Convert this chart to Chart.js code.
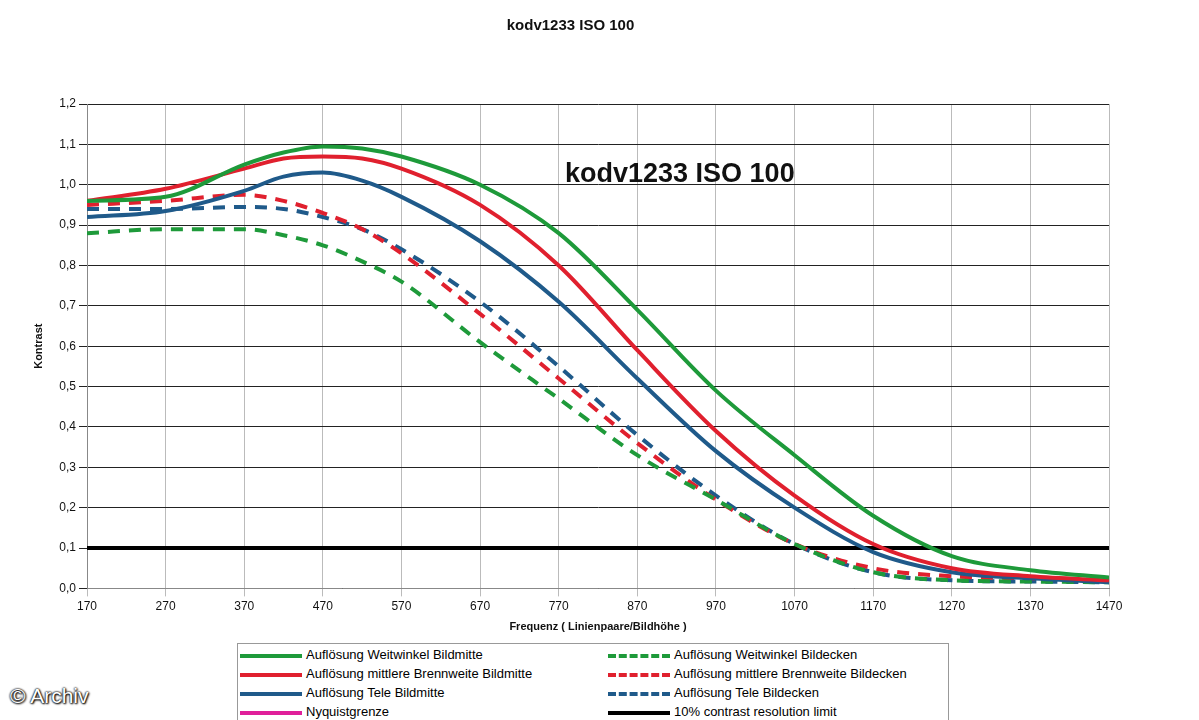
<!DOCTYPE html>
<html><head><meta charset="utf-8">
<script src="https://cdn.jsdelivr.net/npm/chart.js@4/dist/chart.umd.min.js"></script>
<style>
body{margin:0;background:#fff;font-family:"Liberation Sans",Arial,sans-serif;}
#wrap{position:absolute;left:0;top:0;width:1199px;height:638px;}
#inner{position:absolute;left:565px;top:158px;font:bold 27px "Liberation Sans",Arial;color:#111;}
#legend{position:absolute;left:237px;top:643px;width:710px;height:80px;border:1px solid #999;font:13px "Liberation Sans",Arial;}
.it{position:absolute;height:18px;line-height:18px;}
.sw{display:inline-block;width:62px;height:0;vertical-align:middle;margin-right:4px;border-top-width:4px;border-top-style:solid;}
#wm{position:absolute;left:10px;top:684px;font:21px "Liberation Sans",Arial;color:#fff;text-shadow:0 0 2px #000,0 0 2px #000,1px 1px 2px #000;}
</style></head><body>
<div id="wrap"><canvas id="c" width="1199" height="638"></canvas></div>
<div id="inner">kodv1233 ISO 100</div>
<div id="legend"></div>
<div id="wm">© Archiv</div>
<script>
const freq=[170,270,370,420,470,520,570,670,770,870,970,1070,1170,1270,1370,1470];
const weitMitte=[0.96,0.97,1.05,1.08,1.095,1.09,1.07,1.00,0.88,0.69,0.49,0.33,0.18,0.08,0.045,0.027];
const mittelMitte=[0.96,0.99,1.04,1.065,1.07,1.065,1.04,0.95,0.80,0.59,0.39,0.23,0.11,0.05,0.03,0.02];
const teleMitte=[0.92,0.935,0.985,1.02,1.03,1.01,0.97,0.86,0.71,0.52,0.34,0.20,0.09,0.04,0.025,0.015];
const weitEcke=[0.88,0.89,0.89,0.875,0.85,0.81,0.76,0.61,0.47,0.33,0.22,0.11,0.04,0.02,0.017,0.015];
const mittelEcke=[0.95,0.96,0.975,0.96,0.93,0.89,0.83,0.68,0.52,0.36,0.22,0.11,0.05,0.03,0.025,0.02];
const teleEcke=[0.94,0.94,0.945,0.94,0.92,0.89,0.84,0.71,0.55,0.38,0.23,0.11,0.04,0.02,0.017,0.015];
const limit=[0.1,0.1];
const xTicks=[170,270,370,470,570,670,770,870,970,1070,1170,1270,1370,1470];
const G='#1e9a3a',R='#e0202e',B='#1f5a8a';
const mk=(d)=>d.map((v,i)=>({x:freq[i],y:v}));
const ds=[
{label:'Auflösung Weitwinkel Bildmitte',data:mk(weitMitte),borderColor:G,borderWidth:4},
{label:'Auflösung mittlere Brennweite Bildmitte',data:mk(mittelMitte),borderColor:R,borderWidth:4},
{label:'Auflösung Tele Bildmitte',data:mk(teleMitte),borderColor:B,borderWidth:4},
{label:'Auflösung Weitwinkel Bildecken',data:mk(weitEcke),borderColor:G,borderWidth:4,borderDash:[12,9]},
{label:'Auflösung mittlere Brennweite Bildecken',data:mk(mittelEcke),borderColor:R,borderWidth:4,borderDash:[12,9]},
{label:'Auflösung Tele Bildecken',data:mk(teleEcke),borderColor:B,borderWidth:4,borderDash:[12,9]},
{label:'10% contrast resolution limit',data:[{x:170,y:limit[0]},{x:1470,y:limit[1]}],borderColor:'#000',borderWidth:4}
];
ds.forEach(d=>{d.pointRadius=0;d.cubicInterpolationMode='monotone';d.fill=false;});
new Chart(document.getElementById('c'),{type:'line',data:{datasets:ds},
options:{responsive:false,animation:false,layout:{padding:{left:32,right:90,top:0,bottom:0}},
plugins:{legend:{display:false},title:{display:true,text:'kodv1233 ISO 100',color:'#111',font:{size:15,weight:'bold',family:'Liberation Sans'},padding:{top:17,bottom:69}}},
scales:{x:{type:'linear',min:170,max:1470,afterBuildTicks:a=>{a.ticks=xTicks.map(v=>({value:v}));},
ticks:{color:'#111',font:{size:12},maxRotation:0,callback:v=>String(v)},grid:{color:'#bbb',drawTicks:true},border:{color:'#888'},
title:{display:true,text:'Frequenz ( Linienpaare/Bildhöhe )',font:{size:11,weight:'bold'},color:'#111'}},
y:{min:0,max:1.2,afterFit:a=>{a.width=55;},ticks:{stepSize:0.1,color:'#111',font:{size:12},callback:v=>v.toFixed(1).replace('.',',')},
grid:{color:'#222',lineWidth:1},border:{color:'#888'},
title:{display:true,text:'Kontrast',font:{size:11,weight:'bold'},color:'#111',padding:0}}}}});
const items=[
['Auflösung Weitwinkel Bildmitte',G,'solid',0,0],['Auflösung Weitwinkel Bildecken',G,'dashed',1,0],
['Auflösung mittlere Brennweite Bildmitte',R,'solid',0,1],['Auflösung mittlere Brennweite Bildecken',R,'dashed',1,1],
['Auflösung Tele Bildmitte',B,'solid',0,2],['Auflösung Tele Bildecken',B,'dashed',1,2],
['Nyquistgrenze','#e0209a','solid',0,3],['10% contrast resolution limit','#000','solid',1,3]];
const L=document.getElementById('legend');
items.forEach(([t,c,s,col,row])=>{const d=document.createElement('div');d.className='it';
d.style.left=(col?370:2)+'px';d.style.top=(2+row*19)+'px';
d.innerHTML=`<span class="sw" style="border-top-color:${c};border-top-style:${s}"></span>${t}`;L.appendChild(d);});
</script></body></html>
